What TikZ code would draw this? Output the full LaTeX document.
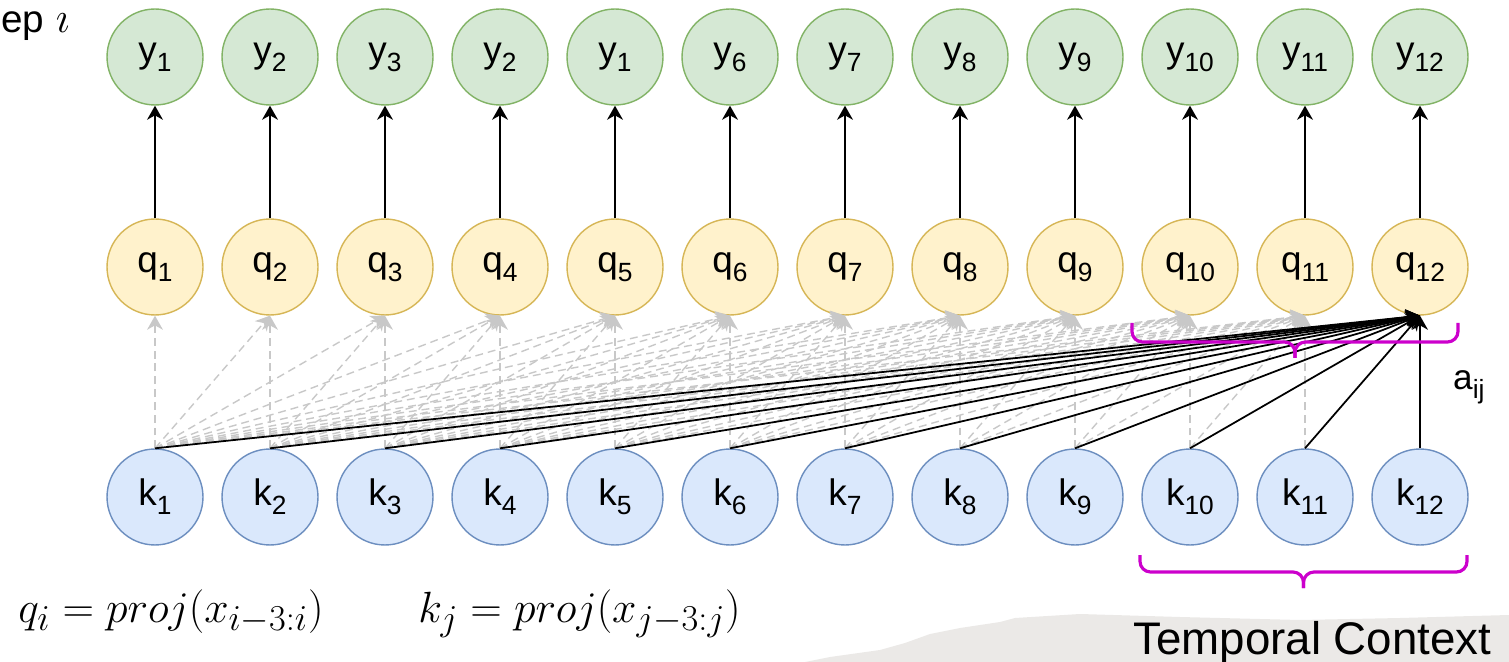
\documentclass[tikz,border=0pt]{standalone}
\usepackage{fontspec}
\setmainfont{Liberation Sans}
\usepackage{xcolor}
\usepackage{tikz}
\usetikzlibrary{arrows.meta}

\definecolor{yfill}{HTML}{D5E8D4}
\definecolor{ydraw}{HTML}{82B366}
\definecolor{qfill}{HTML}{FFF2CC}
\definecolor{qdraw}{HTML}{D6B656}
\definecolor{kfill}{HTML}{DAE8FC}
\definecolor{kdraw}{HTML}{6C8EBF}
\definecolor{attngray}{HTML}{C8C8C8}
\definecolor{bracemag}{HTML}{CC00CC}
\definecolor{paper}{HTML}{EBE9E7}

\newcommand{\nlab}[2]{#1\raisebox{-5pt}{\fontsize{15}{15}\selectfont #2}}

\begin{document}
\begin{tikzpicture}[
        x=0.02cm, y=-0.02cm,
        cell/.style={circle, minimum size=1.92cm, inner sep=0pt, line width=0.8pt, font=\fontsize{21}{21}\selectfont},
        ynode/.style={cell, draw=ydraw, fill=yfill},
        qnode/.style={cell, draw=qdraw, fill=qfill},
        knode/.style={cell, draw=kdraw, fill=kfill},
        arrow/.style={-{Stealth[length=8pt, width=9pt, inset=2.5pt]}, line width=1pt},
        attn/.style={-{Stealth[length=8pt, width=9pt, inset=2.5pt]}, draw=attngray, line width=0.8pt, dash pattern=on 4.5pt off 2.8pt},
        brc/.style={draw=bracemag, line width=1.8pt, rounded corners=6pt}
    ]
        \useasboundingbox (0,0) rectangle (1509,662);
        \fill[paper] (805,662) -- (830,657) -- (880,650) -- (905,643) -- (930,634) -- (960,628) -- (1000,622) -- (1015,618) -- (1080,614) -- (1180,617) -- (1300,620) -- (1400,618) -- (1509,615) -- (1509,662) -- cycle;

        \node[anchor=base west, font=\fontsize{22}{25}\selectfont, inner sep=0pt] (step) at (1,33) {ep\hspace{0.3em}{\fontsize{29}{29}\selectfont$\imath$}};

        \foreach \i/\ylab in {1/1, 2/2, 3/3, 4/2, 5/1, 6/6, 7/7, 8/8, 9/9, 10/10, 11/11, 12/12} {
            \node[knode] (k\i) at ({155+115*(\i-1)},497) {\nlab{k}{\i}};
            \node[qnode] (q\i) at ({155+115*(\i-1)},267) {\nlab{q}{\i}};
            \node[ynode] (y\i) at ({155+115*(\i-1)},57) {\nlab{y}{\ylab}};
            \draw[arrow] (q\i) -- (y\i);
        }

        \foreach \i in {1,...,11}
            \foreach \j in {1,...,\i}
                \draw[attn] (k\j.north) -- (q\i.south);
        \foreach \j in {1,...,12}
            \draw[arrow] (k\j.north) -- (q12.south);

        \node[anchor=base west, font=\fontsize{20}{20}\selectfont] (aij) at (1447,390) {\nlab{a}{ij}};

        \draw[brc] (1132,323) |- (1295,342) -- (1295,358);
        \draw[brc] (1458,323) |- (1295,342) -- (1295,358);
        \draw[brc] (1140,555) |- (1303.5,572) -- (1303.5,588);
        \draw[brc] (1467,555) |- (1303.5,572) -- (1303.5,588);

        \node[anchor=base west, font=\fontsize{30}{34}\selectfont, inner sep=0pt] (qproj) at (18,622) {$q_i = proj(x_{i-3:i})$};
        \node[anchor=base west, font=\fontsize{30}{34}\selectfont, inner sep=0pt] (kproj) at (418,622) {$k_j = proj(x_{j-3:j})$};
        \node[anchor=base west, font=\fontsize{26}{30}\selectfont, inner sep=0pt] (ctx) at (1133,654) {Temporal Context};
    \end{tikzpicture}
\end{document}
